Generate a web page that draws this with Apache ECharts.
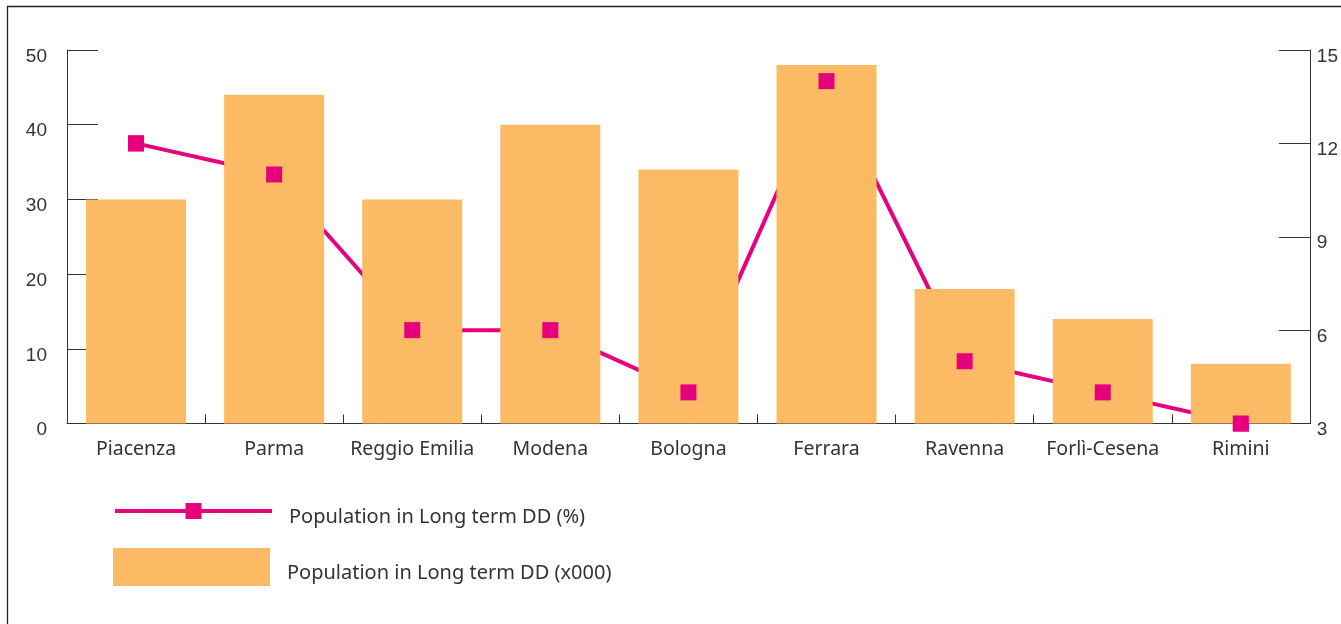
<!DOCTYPE html>
<html>
<head>
<meta charset="utf-8">
<script src="https://cdn.jsdelivr.net/npm/echarts@6/dist/echarts.min.js"></script>
<style>
html,body{margin:0;padding:0;background:#fff;}
#c{width:1341px;height:624px;}
</style>
</head>
<body>
<div id="c"></div>
<script>
const categories = ['Piacenza', 'Parma', 'Reggio Emilia', 'Modena', 'Bologna', 'Ferrara', 'Ravenna', 'Forlì-Cesena', 'Rimini'];
const barValues = [30, 44, 30, 40, 34, 48, 18, 14, 8];
const lineValues = [12, 11, 6, 6, 4, 14, 5, 4, 3];
const lineName = 'Population in Long term DD (%)';
const barName = 'Population in Long term DD (x000)';

const MAGENTA = '#E6007E';
const ORANGE = '#FBBA63';
const TXT = '#333333';

const legendText = {
  fontFamily: 'Noto Sans', fontSize: 20, color: TXT, padding: [0, 0, 0, 12],
  rich: {
    s: {fontSize: 2, lineHeight: 12},
    t: {fontFamily: 'Noto Sans', fontSize: 20, lineHeight: 24, color: TXT}
  }
};
const legendFmt = name => '{s| }\n{t|' + name + '}';

const chart = echarts.init(document.getElementById('c'), null, {renderer: 'canvas'});
chart.setOption({
  animation: false,
  backgroundColor: '#ffffff',
  grid: {left: 67, right: 30, top: 50, bottom: 200.5, containLabel: false},
  graphic: [{
    type: 'polyline',
    shape: {points: [[7.5, 624], [7.5, 6.5], [1341, 6.5]]},
    style: {stroke: '#222', lineWidth: 1.3, fill: null},
    silent: true
  }],
  legend: [{
    data: [{name: lineName}],
    left: 113, top: 498,
    padding: 0,
    itemWidth: 157, itemHeight: 20,
    lineStyle: {width: 4, color: MAGENTA},
    itemStyle: {color: MAGENTA},
    formatter: legendFmt,
    textStyle: legendText,
    selectedMode: false
  }, {
    data: [{name: barName, icon: 'rect'}],
    left: 113, top: 548,
    padding: 0,
    itemWidth: 157, itemHeight: 38,
    formatter: legendFmt,
    textStyle: legendText,
    selectedMode: false
  }],
  xAxis: {
    type: 'category',
    data: categories,
    axisLine: {lineStyle: {color: TXT, width: 1}},
    axisTick: {show: true, inside: true, length: 9, lineStyle: {color: TXT}},
    axisLabel: {fontFamily: 'Noto Sans', fontSize: 19.5, color: TXT, margin: 16, interval: 0}
  },
  yAxis: [{
    type: 'value',
    min: 0, max: 50, interval: 10,
    axisLine: {show: true, lineStyle: {color: TXT, width: 1}},
    axisTick: {show: true, inside: true, length: 31, lineStyle: {color: TXT}},
    splitLine: {show: false},
    axisLabel: {fontFamily: 'Liberation Sans', fontSize: 19, color: TXT, margin: 20, verticalAlign: 'top', lineHeight: 13}
  }, {
    type: 'value',
    min: 3, max: 15, interval: 3,
    position: 'right',
    axisLine: {show: true, lineStyle: {color: TXT, width: 1}},
    axisTick: {show: true, inside: true, length: 31, lineStyle: {color: TXT}},
    splitLine: {show: false},
    axisLabel: {fontFamily: 'Liberation Sans', fontSize: 19, color: TXT, margin: 7, verticalAlign: 'top', lineHeight: 13}
  }],
  series: [{
    name: lineName,
    type: 'line',
    yAxisIndex: 1,
    data: lineValues,
    z: 1,
    symbol: 'rect',
    symbolSize: 16,
    showSymbol: true,
    lineStyle: {color: MAGENTA, width: 4},
    itemStyle: {color: MAGENTA},
    silent: true
  }, {
    name: barName,
    type: 'bar',
    yAxisIndex: 0,
    data: barValues,
    barWidth: 100,
    z: 2,
    itemStyle: {color: ORANGE},
    silent: true
  }, {
    name: 'markers',
    type: 'scatter',
    yAxisIndex: 1,
    data: lineValues,
    symbol: 'rect',
    symbolSize: 16,
    z: 3,
    itemStyle: {color: MAGENTA, opacity: 1},
    silent: true
  }]
});
</script>
</body>
</html>
